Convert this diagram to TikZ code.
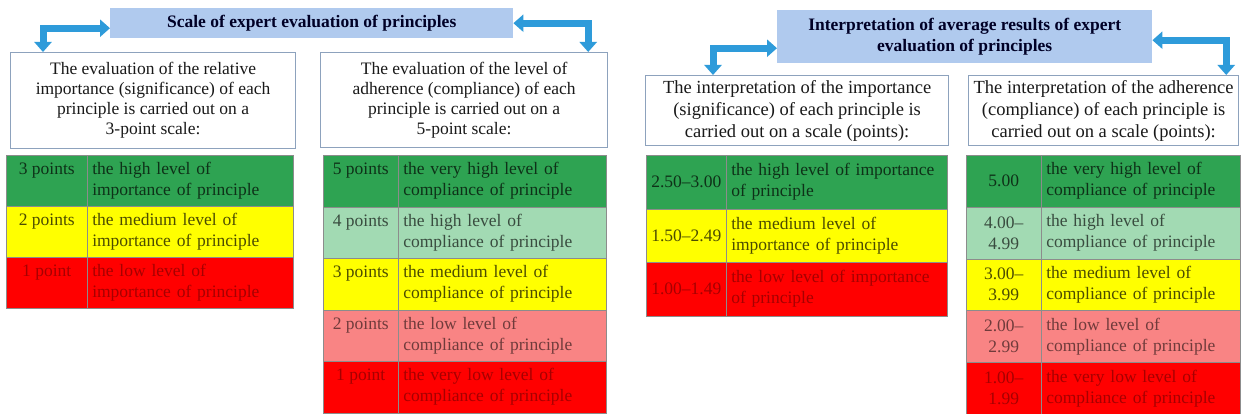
\documentclass[tikz,border=0pt]{standalone}
\usepackage{fontspec}
\setmainfont{Liberation Serif}
\usepackage{xcolor}
\usetikzlibrary{arrows.meta}
\definecolor{titleblue}{HTML}{B0CAEE}
\definecolor{boxedge}{HTML}{8DA2BD}
\definecolor{arrowblue}{HTML}{2E9BDA}
\definecolor{cgreen}{HTML}{2EA352}
\definecolor{cmint}{HTML}{A2DAB3}
\definecolor{cyellow}{HTML}{FFFF00}
\definecolor{cpink}{HTML}{F98484}
\definecolor{cred}{HTML}{FF0000}
\tikzset{
	ttl/.style={fill=titleblue, text=black!85!blue, anchor=north west, inner sep=0pt,
			align=center, font=\bfseries\fontsize{17.5}{21}\selectfont},
	infobox/.style={draw=boxedge, line width=1.2pt, fill=white, text=black!90, anchor=north west,
			inner sep=0pt, align=center},
	ptcell/.style={anchor=north west, draw=black!45, line width=0.5pt, inner xsep=2pt, inner ysep=0pt,
			align=center, font=\fontsize{17.5}{21}\selectfont},
	toptext/.style={text height=12pt, text depth=25pt},
	desc/.style={ptcell, align=left, inner xsep=5pt, text width=#1},
	rowgreen/.style={fill=cgreen, text=cgreen!30!black},
	rowmint/.style={fill=cmint, text=cmint!35!black},
	rowyellow/.style={fill=cyellow, text=cyellow!30!black},
	rowpink/.style={fill=cpink, text=cpink!45!black},
	rowred/.style={fill=cred, text=cred!65!black},
	dblarrow/.style={draw=arrowblue, line width=7pt,
			{Triangle[width=17pt,length=10pt]}-{Triangle[width=17pt,length=10pt]}}
}

\begin{document}
\begin{tikzpicture}[x=1pt, y=-1pt]
	\fill[white] (0,0) rectangle (1241,414);
	\useasboundingbox (0,0) rectangle (1241,414);

	% Left part: scale of expert evaluation
	\node[ttl, minimum width=403pt, minimum height=30pt] (s1) at (110,8)
		{Scale of expert evaluation of principles};
	\node[infobox, minimum width=285pt, minimum height=96pt, font=\fontsize{17.5}{20}\selectfont] (ev1) at (10,52)
		{The evaluation of the relative\\importance (significance) of each\\principle is carried out on a\\3-point scale:};
	\node[infobox, minimum width=287pt, minimum height=95pt, font=\fontsize{17.5}{20}\selectfont] (ev2) at (320,52)
		{The evaluation of the level of\\adherence (compliance) of each\\principle is carried out on a\\5-point scale:};
	\draw[dblarrow] ([yshift=-5pt]s1.west) -| ([xshift=33pt]ev1.north west);
	\draw[dblarrow] (s1.east) -| ([xshift=-20pt]ev2.north east);

	% 3-point scale
	\node[ptcell, toptext, rowgreen, minimum width=81pt, minimum height=51pt] (ip1) at (6,155) {3 points};
	\node[desc=196pt, rowgreen, minimum height=51pt] (id1) at (87,155) {the high level of\\importance of principle};
	\node[ptcell, toptext, rowyellow, minimum width=81pt, minimum height=51pt] (ip2) at (6,206) {2 points};
	\node[desc=196pt, rowyellow, minimum height=51pt] (id2) at (87,206) {the medium level of\\importance of principle};
	\node[ptcell, toptext, rowred, minimum width=81pt, minimum height=51pt] (ip3) at (6,257) {1 point};
	\node[desc=196pt, rowred, minimum height=51pt] (id3) at (87,257) {the low level of\\importance of principle};

	% 5-point scale
	\node[ptcell, toptext, rowgreen, minimum width=75pt, minimum height=51.5pt] (cp1) at (323,155) {5 points};
	\node[desc=198pt, rowgreen, minimum height=51.5pt] (cd1) at (398,155) {the very high level of\\compliance of principle};
	\node[ptcell, toptext, rowmint, minimum width=75pt, minimum height=51.5pt] (cp2) at (323,206.5) {4 points};
	\node[desc=198pt, rowmint, minimum height=51.5pt] (cd2) at (398,206.5) {the high level of\\compliance of principle};
	\node[ptcell, toptext, rowyellow, minimum width=75pt, minimum height=51.5pt] (cp3) at (323,258) {3 points};
	\node[desc=198pt, rowyellow, minimum height=51.5pt] (cd3) at (398,258) {the medium level of\\compliance of principle};
	\node[ptcell, toptext, rowpink, minimum width=75pt, minimum height=51.5pt] (cp4) at (323,309.5) {2 points};
	\node[desc=198pt, rowpink, minimum height=51.5pt] (cd4) at (398,309.5) {the low level of\\compliance of principle};
	\node[ptcell, toptext, rowred, minimum width=75pt, minimum height=51.5pt] (cp5) at (323,361) {1 point};
	\node[desc=198pt, rowred, minimum height=51.5pt] (cd5) at (398,361) {the very low level of\\compliance of principle};

	% Right part: interpretation of average results
	\node[ttl, minimum width=375pt, minimum height=53pt] (s2) at (777,10)
		{Interpretation of average results of expert\\evaluation of principles};
	\node[infobox, minimum width=303pt, minimum height=70pt, font=\fontsize{18.5}{22}\selectfont] (in1) at (645,75)
		{The interpretation of the importance\\(significance) of each principle is\\carried out on a scale (points):};
	\node[infobox, minimum width=270pt, minimum height=70pt, font=\fontsize{18.5}{22}\selectfont] (in2) at (968,75)
		{The interpretation of the adherence\\(compliance) of each principle is\\carried out on a scale (points):};
	\draw[dblarrow] ([yshift=-11.5pt]s2.west) -| ([xshift=68pt]in1.north west);
	\draw[dblarrow] ([yshift=-3.5pt]s2.east) -| ([xshift=-13pt]in2.north east);

	% importance intervals
	\node[ptcell, rowgreen, minimum width=80pt, minimum height=53.5pt] (rip1) at (646,155) {2.50--3.00};
	\node[desc=211pt, rowgreen, minimum height=53.5pt] (rid1) at (726,155) {the high level of importance\\of principle};
	\node[ptcell, rowyellow, minimum width=80pt, minimum height=53.5pt] (rip2) at (646,208.5) {1.50--2.49};
	\node[desc=211pt, rowyellow, minimum height=53.5pt] (rid2) at (726,208.5) {the medium level of\\importance of principle};
	\node[ptcell, rowred, minimum width=80pt, minimum height=53.5pt] (rip3) at (646,262) {1.00--1.49};
	\node[desc=211pt, rowred, minimum height=53.5pt] (rid3) at (726,262) {the low level of importance\\of principle};

	% compliance intervals
	\node[ptcell, rowgreen, minimum width=75pt, minimum height=51.8pt] (rcp1) at (966,155) {5.00};
	\node[desc=189pt, rowgreen, minimum height=51.8pt] (rcd1) at (1041,155) {the very high level of\\compliance of principle};
	\node[ptcell, rowmint, minimum width=75pt, minimum height=51.8pt] (rcp2) at (966,206.8) {4.00--\\4.99};
	\node[desc=189pt, rowmint, minimum height=51.8pt] (rcd2) at (1041,206.8) {the high level of\\compliance of principle};
	\node[ptcell, rowyellow, minimum width=75pt, minimum height=51.8pt] (rcp3) at (966,258.6) {3.00--\\3.99};
	\node[desc=189pt, rowyellow, minimum height=51.8pt] (rcd3) at (1041,258.6) {the medium level of\\compliance of principle};
	\node[ptcell, rowpink, minimum width=75pt, minimum height=51.8pt] (rcp4) at (966,310.4) {2.00--\\2.99};
	\node[desc=189pt, rowpink, minimum height=51.8pt] (rcd4) at (1041,310.4) {the low level of\\compliance of principle};
	\node[ptcell, rowred, minimum width=75pt, minimum height=51.8pt] (rcp5) at (966,362.2) {1.00--\\1.99};
	\node[desc=189pt, rowred, minimum height=51.8pt] (rcd5) at (1041,362.2) {the very low level of\\compliance of principle};
\end{tikzpicture}
\end{document}
